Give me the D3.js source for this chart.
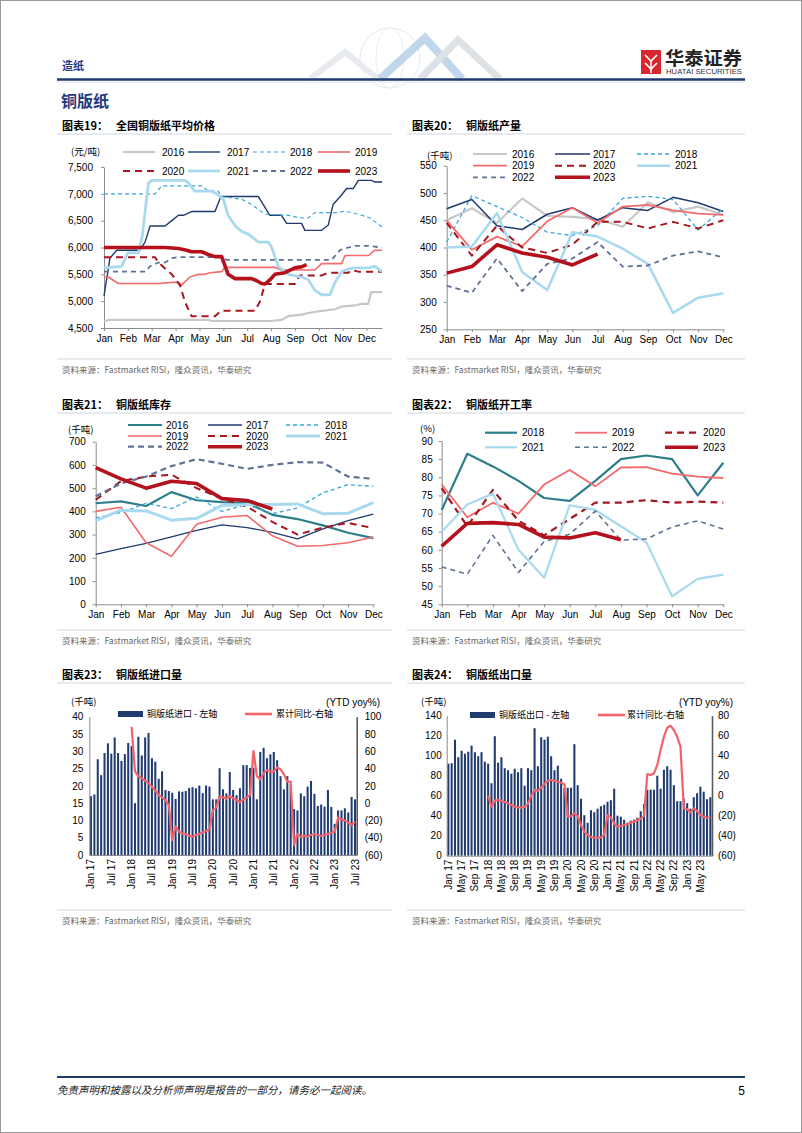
<!DOCTYPE html>
<html><head><meta charset="utf-8">
<script src="https://cdn.jsdelivr.net/npm/d3@7"></script>
<style>
body{margin:0;background:#fff;}
svg{display:block;font-family:"Liberation Sans",Arial,sans-serif;}
</style></head><body>
<svg id="page" width="802" height="1133"></svg>
<script>
// ---------------- DATA ----------------
const months = ["Jan","Feb","Mar","Apr","May","Jun","Jul","Aug","Sep","Oct","Nov","Dec"];

// Chart 19: [month position, price 元/吨]
const price2016 = [[0,4620],[0.2,4650],[4.4,4650],[4.5,4630],[7.0,4630],[7.44,4650],[7.72,4720],[8.28,4750],[8.56,4780],[8.98,4810],[9.68,4850],[9.96,4900],[10.5,4920],[10.8,4950],[11.07,4950],[11.2,5170],[11.65,5170]];
const price2017 = [[0,5100],[0.25,5800],[0.53,5950],[1.5,5950],[1.72,6100],[1.93,6400],[2.56,6400],[2.84,6500],[3.12,6600],[3.33,6600],[3.67,6670],[4.65,6670],[4.9,6950],[6.47,6950],[6.95,6600],[7.44,6600],[7.65,6450],[8.28,6450],[8.42,6320],[9.12,6320],[9.4,6420],[9.6,6800],[9.9,6950],[10.17,7100],[10.45,7100],[10.66,7250],[11.21,7250],[11.35,7220],[11.65,7220]];
const price2018 = [[0,7000],[2.14,7000],[2.42,7150],[4.09,7150],[4.37,7050],[4.79,7050],[4.9,6950],[5.77,6900],[6.19,6800],[6.75,6620],[7.72,6600],[8.28,6550],[8.56,6550],[8.84,6650],[9.82,6650],[10.1,6680],[10.8,6600],[11.15,6550],[11.65,6380]];
const price2019 = [[0,5450],[0.18,5450],[0.6,5330],[2.28,5330],[2.84,5350],[3.12,5350],[3.25,5300],[3.6,5450],[3.95,5500],[4.23,5500],[4.44,5530],[4.93,5550],[5.07,5630],[7.16,5630],[7.44,5580],[8.84,5580],[9.12,5700],[9.96,5700],[10.1,5850],[11.08,5850],[11.35,5950],[11.65,5950]];
const price2020 = [[0,5820],[2.14,5820],[2.28,5720],[2.84,5500],[3.18,5300],[3.4,4980],[3.67,4720],[4.65,4720],[4.9,4820],[6.33,4820],[6.54,5000],[6.75,5320],[8.0,5320],[8.2,5480],[9.12,5480],[9.4,5530],[10.24,5530],[10.38,5580],[10.66,5550],[11.65,5550]];
const price2021 = [[0,5620],[0.74,5650],[1.0,5900],[1.44,5900],[1.6,6200],[1.86,7200],[2.0,7250],[3.4,7250],[3.55,7200],[3.8,7050],[4.5,7050],[4.72,7000],[5.0,6900],[5.2,6600],[5.5,6400],[5.77,6300],[6.05,6250],[6.47,6100],[6.89,6100],[7.03,6000],[7.3,5650],[7.72,5500],[8.28,5450],[8.56,5400],[8.84,5200],[9.12,5120],[9.47,5120],[9.68,5350],[9.96,5550],[10.24,5600],[10.52,5620],[11.08,5620],[11.35,5650],[11.65,5550]];
const price2022 = [[0,5550],[1.72,5550],[1.93,5650],[2.28,5720],[2.56,5720],[2.84,5800],[3.12,5820],[4.93,5820],[5.14,5770],[9.54,5770],[9.89,5950],[10.24,6000],[10.52,6030],[11.08,6030],[11.65,6000]];
const price2023 = [[0,6000],[2.56,6000],[3.12,5980],[3.46,5950],[3.67,5920],[4.09,5920],[4.37,5870],[4.65,5830],[4.93,5830],[5.2,5500],[5.49,5420],[6.19,5420],[6.4,5380],[6.6,5330],[6.75,5320],[6.96,5400],[7.16,5500],[7.58,5530],[8.0,5620],[8.28,5640],[8.49,5680]];
const priceTicks = [4500,5000,5500,6000,6500,7000,7500];

// Chart 20: output (千吨), Jan-Dec
const out2016 = [450,472,445,490,458,456,452,438,483,465,475,460];
const out2017 = [471,488,440,433,461,473,450,473,468,492,482,466];
const out2018 = [410,495,475,455,428,422,440,490,494,488,432,472];
const out2019 = [450,396,420,402,448,473,445,475,478,468,462,460];
const out2020 = [445,385,440,400,390,405,447,447,435,447,435,450];
const out2021 = [400,402,463,355,322,428,420,398,370,280,308,316];
const out2022 = [330,317,380,320,370,380,410,365,367,385,393,382];
const out2023 = [353,365,405,390,382,368,388];
const outTicks = [250,300,350,400,450,500,550];

// Chart 21: inventory (千吨)
const inv2016 = [435,443,423,483,448,440,437,385,367,340,308,285];
const inv2017 = [215,240,262,290,318,342,330,310,282,325,360,388];
const inv2018 = [372,395,435,412,462,400,430,390,415,480,515,508];
const inv2019 = [400,418,265,207,345,375,382,295,250,253,265,290];
const inv2020 = [450,530,550,558,500,455,420,355,300,330,350,328];
const inv2021 = [360,405,402,362,370,425,430,430,432,390,392,438];
const inv2022 = [465,520,550,595,625,605,583,600,612,610,550,540];
const inv2023 = [588,540,500,530,520,455,447,410];
const invTicks = [0,100,200,300,400,500,600,700];

// Chart 22: operating rate (%)
const run2018 = [71,86.5,83,79,74.3,73.5,79,85,86,85,75,84];
const run2019 = [78,69,73,70,78,82,77.5,82.7,82.8,81,80.2,79.8];
const run2020 = [77,66.5,76.5,68,64,68.5,73,73,73.7,73,73.3,73];
const run2021 = [65,72.5,75.5,60,52.3,72.3,71,66.5,62,47.2,52,53.2];
const run2022 = [55.3,53.3,64,53.8,62.3,64.3,70.7,62.7,63,66.3,68,65.7];
const run2023 = [61,67.3,67.5,67,63.5,63.3,64.7,62.8];
const runTicks = [45,50,55,60,65,70,75,80,85,90];

// Chart 23: imports (千吨) Jan17-Jul23, YTD yoy %
const impVals = [17,17.5,27.7,23.1,29.5,32.3,29.3,34,29.5,27.2,29.2,32.4,
 31.5,15,34.2,28.8,34,35.3,28,27,22,24.2,18.8,18.5,
 18,16.2,18.4,18.3,18.5,19.4,19.6,19.3,20.1,17.9,20.1,19.8,
 16.1,16.1,25.1,19,17.8,24,18.8,17.3,19.3,26,26,25.2,
 25.2,16.1,29.8,31,28,29.1,29.8,27.4,22.8,19,22.8,20.5,
 13.3,12.9,17.8,17,19.8,21.4,17.7,14.2,14.6,14,18.8,13.9,
 9,12.9,12.9,13.5,12.3,16.8,16.1];
const impYoy = [null,null,null,null,null,null,null,null,null,null,null,null,
 88.4,36.4,31.4,28.7,26,23,19,14.4,9.4,6.7,3.6,-2.2,
 -42.7,-27,-33,-35,-35.7,-37.6,-38.8,-37,-35.7,-34,-32.6,-30.3,
 -8,-5,7.5,6.7,5.2,8.2,5.5,3.6,1,4.4,6.7,9.4,
 60.3,31.4,27.5,34.5,38.3,36.4,36.4,41.4,39,33.3,24.8,24.8,
 -48.4,-35.7,-38.8,-38,-38.8,-36.9,-35.7,-36.9,-38,-36.9,-35.7,-34.2,
 -33,-16.8,-18.7,-20.3,-22.6,-25.3,-21.4];
const impTickLabels = ["Jan 17","Jul 17","Jan 18","Jul 18","Jan 19","Jul 19","Jan 20","Jul 20","Jan 21","Jul 21","Jan 22","Jul 22","Jan 23","Jul 23"];
const impTicksL = [0,5,10,15,20,25,30,35,40];
const impTicksR = [-60,-40,-20,0,20,40,60,80,100];

// Chart 24: exports (千吨) Jan17-Aug23, YTD yoy %
const expVals = [92,92.5,116,98.5,105,102,104,110,103.5,99.5,103.5,94,
 92,72.5,119.5,93,98.5,87.5,85.5,82,87,83.5,87.5,70,
 87.5,85.5,127.5,89.5,118.5,116,119,99.5,85.5,90,77,68,
 68,68,111.5,70.5,57,40.5,33,45.5,43.5,47,49.5,51,
 54,55.5,67,40,39,36,33,35,36,38,44.5,51.5,
 66,66,66,80,67,86,89.5,86,70.5,54.5,54.5,57,
 52.5,47,58.5,62.5,69,64,56.5,58.5];
const expYoy = [null,null,null,null,null,null,null,null,null,null,null,null,
 0,-11,-5,-4.3,-5,-6.3,-7.7,-9.3,-11,-11.7,-12,-11,
 -8,0,5.5,5,8,12,15,15.7,15,14,13,11.5,
 -21,-20.3,-17.7,-20.3,-29.3,-36,-39.3,-41,-42,-42,-41.7,-39.3,
 -19.3,-21.7,-27.7,-31,-30.3,-29.3,-28.3,-27,-26,-24.3,-23,-20.3,
 21.7,20.7,22.3,30.7,45.7,59,68,70,65.7,59,49,-12.7,
 -13.3,-16.7,-12.7,-15.3,-19.3,-21,-22,-21];
const expTickLabels = ["Jan 17","May 17","Sep 17","Jan 18","May 18","Sep 18","Jan 19","May 19","Sep 19","Jan 20","May 20","Sep 20","Jan 21","May 21","Sep 21","Jan 22","May 22","Sep 22","Jan 23","May 23"];
const expTicksL = [0,20,40,60,80,100,120,140];
const expTicksR = [-60,-40,-20,0,20,40,60,80];

const yearNames = ["16","17","18","19","20","21","22","23"];

// ---------------- STYLE ----------------
const C = {g16:"#c8c8c8", navy:"#1f3a6e", cyan:"#3ba6d8", salmon:"#f26a6c", dred:"#a5161e",
  lblue:"#a9d9ee", gblue:"#5e7394", red:"#b3111b", teal:"#2d7e8a", bar:"#1f3b70", coral:"#f4636a"};
const CN = '"Noto Sans CJK SC","Noto Sans CJK JP",sans-serif';
const svg = d3.select("#page");

function txt(x,y,s,o={}){
  const t = svg.append("text").attr("x",x).attr("y",y).text(s)
    .style("font-size",(o.size||10)+"px").attr("fill",o.fill||"#000");
  if(o.cn) t.style("font-family",CN);
  if(o.bold) t.style("font-weight","bold");
  if(o.italic) t.style("font-style","italic");
  if(o.anchor) t.attr("text-anchor",o.anchor);
  if(o.dy) t.attr("dy",o.dy);
  if(o.len) t.attr("textLength",o.len).attr("lengthAdjust","spacingAndGlyphs");
  return t;
}
function hline(x1,x2,y,color,w){
  svg.append("line").attr("x1",x1).attr("x2",x2).attr("y1",y).attr("y2",y).attr("stroke",color).attr("stroke-width",w);
}

// ---------------- PAGE ----------------
svg.append("rect").attr("x",0.5).attr("y",0.5).attr("width",801).attr("height",1132).attr("fill","none").attr("stroke","#9a9a9a");
// decorative header graphic
const deco = svg.append("g").attr("opacity",0.55);
deco.append("circle").attr("cx",390).attr("cy",58).attr("r",30).attr("fill","none").attr("stroke","#cfd6de").attr("stroke-width",1);
deco.append("ellipse").attr("cx",390).attr("cy",58).attr("rx",14).attr("ry",30).attr("fill","none").attr("stroke","#d8dee5").attr("stroke-width",1);
[[[310,79],[345,52],[378,79]],[[380,79],[425,38],[462,79]],[[420,79],[458,40],[500,79]]].forEach((p,i)=>{
  deco.append("path").attr("d",d3.line()(p)).attr("fill","none")
   .attr("stroke",["#d5dbe2","#8fb6dc","#c3cbd4"][i]).attr("stroke-width",[6,8,7][i]);
});
txt(62,70,"造纸",{cn:true,bold:true,size:11,fill:"#1f3b82"});
// logo
svg.append("rect").attr("x",641).attr("y",50).attr("width",20).attr("height",24).attr("fill","#d7282f");
svg.append("path").attr("d","M645,55 L651,61 L657,55 M645,63 L651,69 L657,63 M651,61 L651,73").attr("stroke","#fff").attr("stroke-width",1.6).attr("fill","none");
txt(665,65,"华泰证券",{cn:true,bold:true,size:18,fill:"#222",len:77});
txt(666,74,"HUATAI SECURITIES",{size:6.5,fill:"#333",len:76});
hline(57,745,79.5,"#1f3b70",2.5);
hline(57,745,82,"#dfe5ee",1);
txt(61,107,"铜版纸",{cn:true,bold:true,size:16,fill:"#1f3b82"});

// chart titles, rules and sources
const panels = [
  {x:62, y:126, n:"19", t:"全国铜版纸平均价格", l:57, r:392, src:370},
  {x:412, y:126, n:"20", t:"铜版纸产量", l:407, r:745, src:370},
  {x:62, y:405, n:"21", t:"铜版纸库存", l:57, r:392, src:641},
  {x:412, y:405, n:"22", t:"铜版纸开工率", l:407, r:745, src:641},
  {x:62, y:675, n:"23", t:"铜版纸进口量", l:57, r:392, src:921},
  {x:412, y:675, n:"24", t:"铜版纸出口量", l:407, r:745, src:921}
];
panels.forEach(p=>{
  txt(p.x,p.y+4,"图表"+p.n+"：",{cn:true,bold:true,size:11});
  txt(p.x+54,p.y+4,p.t,{cn:true,bold:true,size:11});
  hline(p.l,p.r,p.y+8,"#c2cddb",0.8);
  hline(p.l,p.r,p.src-11,"#c2cddb",0.8);
  txt(p.x,p.src+3,"资料来源：Fastmarket RISI，隆众资讯，华泰研究",{cn:true,size:8.5,fill:"#666"});
});
// footer
hline(57,745,1077,"#1f3b70",2);
txt(57,1094,"免责声明和披露以及分析师声明是报告的一部分，请务必一起阅读。",{cn:true,italic:true,size:10.5,fill:"#222"});
txt(745,1095,"5",{size:12,anchor:"end"});

// ---------------- HELPERS ----------------
function styleAxis(g, fs){
  g.selectAll(".domain").attr("stroke","#8c8c8c");
  g.selectAll(".tick line").attr("stroke","#8c8c8c");
  g.selectAll("text").attr("fill","#000").style("font-size",(fs||10)+"px").style("font-family",'"Liberation Sans",Arial,sans-serif');
}
function legendItem(x1,x2,y,label,st,lx){
  const l = svg.append("line").attr("x1",x1).attr("x2",x2).attr("y1",y).attr("y2",y)
    .attr("stroke",st.c).attr("stroke-width",st.w);
  if(st.d) l.attr("stroke-dasharray",st.d);
  txt(lx,y,label,{size:10,dy:"0.36em"});
}
function drawSeries(pts, st){
  const p = svg.append("path").attr("d",d3.line()(pts)).attr("fill","none")
    .attr("stroke",st.c).attr("stroke-width",st.w).attr("stroke-linejoin","round");
  if(st.d) p.attr("stroke-dasharray",st.d);
}
function monthlyChart(o){
  const x = d3.scalePoint().domain(months).range(o.xr);
  const y = d3.scaleLinear().domain(o.yd).range(o.yr);
  const gy = svg.append("g").attr("transform",`translate(${o.xr[0]},0)`)
    .call(d3.axisLeft(y).tickValues(o.ticks).tickSize(3).tickPadding(o.padY).tickSizeOuter(0));
  styleAxis(gy);
  const gx = svg.append("g").attr("transform",`translate(0,${o.yr[0]})`)
    .call(d3.axisBottom(x).tickSize(3).tickPadding(4).tickSizeOuter(0));
  styleAxis(gx);
  o.series.forEach(s=>{
    drawSeries(s.v.map((v,i)=>[x(months[i]),y(v)]), s.st);
  });
  o.series.forEach((s,i)=>{
    const col = i % o.cols.length, row = Math.floor(i / o.cols.length);
    const c = o.cols[col];
    legendItem(c[0],c[1],o.rows[row],s.name,s.st,c[2]);
  });
  txt(o.unit[0],o.unit[1],o.unitText,{cn:true,size:9.5,dy:"0.36em"});
}

// ---------------- CHART 19 ----------------
(function(){
  const x = d3.scaleLinear().domain([0,11.65]).range([104,382]);
  const y = d3.scaleLinear().domain([4500,7500]).range([328,167]);
  const gy = svg.append("g").attr("transform","translate(104,0)")
    .call(d3.axisLeft(y).tickValues(priceTicks).tickFormat(d3.format(",")).tickSize(3).tickPadding(8).tickSizeOuter(0));
  styleAxis(gy);
  const gx = svg.append("g").attr("transform","translate(0,328)")
    .call(d3.axisBottom(x).tickValues(d3.range(12)).tickFormat(i=>months[i]).tickSize(3).tickPadding(4).tickSizeOuter(0));
  styleAxis(gx);
  const series = [
    {name:"2016", v:price2016, st:{c:C.g16,w:2.2}},
    {name:"2017", v:price2017, st:{c:C.navy,w:1.4}},
    {name:"2018", v:price2018, st:{c:C.cyan,w:1.2,d:"4,3"}},
    {name:"2019", v:price2019, st:{c:C.salmon,w:1.6}},
    {name:"2020", v:price2020, st:{c:C.dred,w:2,d:"7,5"}},
    {name:"2021", v:price2021, st:{c:C.lblue,w:2.8}},
    {name:"2022", v:price2022, st:{c:C.gblue,w:1.8,d:"5,4"}},
    {name:"2023", v:price2023, st:{c:C.red,w:3.6}}
  ];
  series.forEach(s=>drawSeries(s.v.map(d=>[x(d[0]),y(d[1])]), s.st));
  const cols = [[123,155,162],[188,220,227],[253,285,290],[318,350,355]];
  const rows = [152,171];
  series.forEach((s,i)=>{ const c = cols[i%4]; legendItem(c[0],c[1],rows[Math.floor(i/4)],s.name,s.st,c[2]); });
  txt(71,152,"(元/吨)",{cn:true,size:9.5,dy:"0.36em"});
})();

// ---------------- CHART 20 ----------------
monthlyChart({
  xr:[446.7,723.3], yd:[250,550], yr:[329.3,165.7], ticks:outTicks, padY:7,
  series:[
    {name:"2016", v:out2016, st:{c:C.g16,w:2.2}},
    {name:"2017", v:out2017, st:{c:C.navy,w:1.5}},
    {name:"2018", v:out2018, st:{c:C.cyan,w:1.3,d:"4,3"}},
    {name:"2019", v:out2019, st:{c:C.salmon,w:1.8}},
    {name:"2020", v:out2020, st:{c:C.dred,w:2,d:"7,5"}},
    {name:"2021", v:out2021, st:{c:C.lblue,w:2.5}},
    {name:"2022", v:out2022, st:{c:C.gblue,w:1.8,d:"5,4"}},
    {name:"2023", v:out2023, st:{c:C.red,w:3.6}}
  ],
  cols:[[473,507,512],[555,590,593],[637,670,675]], rows:[154,165.7,177.3],
  unit:[427,156], unitText:"(千吨)"
});

// ---------------- CHART 21 ----------------
monthlyChart({
  xr:[95.7,373.3], yd:[0,700], yr:[604.3,441.7], ticks:invTicks, padY:7,
  series:[
    {name:"2016", v:inv2016, st:{c:C.teal,w:2.2}},
    {name:"2017", v:inv2017, st:{c:C.navy,w:1.3}},
    {name:"2018", v:inv2018, st:{c:C.cyan,w:1.3,d:"4,3"}},
    {name:"2019", v:inv2019, st:{c:C.salmon,w:1.6}},
    {name:"2020", v:inv2020, st:{c:C.dred,w:2,d:"7,5"}},
    {name:"2021", v:inv2021, st:{c:C.lblue,w:3}},
    {name:"2022", v:inv2022, st:{c:C.gblue,w:2.2,d:"6,4"}},
    {name:"2023", v:inv2023, st:{c:C.red,w:3.6}}
  ],
  cols:[[128,162,166],[208,242,246],[286,320,325]], rows:[425,436,446.7],
  unit:[68,429.7], unitText:"(千吨)"
});

// ---------------- CHART 22 ----------------
monthlyChart({
  xr:[441.7,723.3], yd:[45,90], yr:[604.3,441], ticks:runTicks, padY:6,
  series:[
    {name:"2018", v:run2018, st:{c:C.teal,w:2.2}},
    {name:"2019", v:run2019, st:{c:C.salmon,w:1.8}},
    {name:"2020", v:run2020, st:{c:C.dred,w:2.2,d:"7,5"}},
    {name:"2021", v:run2021, st:{c:C.lblue,w:2.2}},
    {name:"2022", v:run2022, st:{c:C.gblue,w:1.6,d:"5,4"}},
    {name:"2023", v:run2023, st:{c:C.red,w:3.6}}
  ],
  cols:[[485,517,522],[575,607,612],[665,698,703]], rows:[432.7,447.3],
  unit:[420,429], unitText:"(%)"
});

// ---------------- BAR + LINE CHARTS ----------------
function buildCats(n){
  const out=[]; for(let i=0;i<n;i++){ out.push(months[i%12]+" "+(17+Math.floor(i/12))); } return out;
}
function barChart(o){
  const cats = buildCats(o.vals.length);
  const x = d3.scaleBand().domain(cats).range(o.xr).paddingInner(o.pad).paddingOuter(o.pad/2);
  const yL = d3.scaleLinear().domain(o.ydL).range(o.yr);
  const yR = d3.scaleLinear().domain(o.ydR).range(o.yr);
  svg.append("g").selectAll("rect").data(o.vals).join("rect")
    .attr("x",(d,i)=>x(cats[i])).attr("width",x.bandwidth())
    .attr("y",d=>yL(d)).attr("height",d=>yL(0)-yL(d)).attr("fill",C.bar);
  const gl = svg.append("g").attr("transform",`translate(${o.xr[0]},0)`)
    .call(d3.axisLeft(yL).tickValues(o.ticksL).tickSize(0).tickPadding(o.padL));
  styleAxis(gl);
  const gr = svg.append("g").attr("transform",`translate(${o.xr[1]},0)`)
    .call(d3.axisRight(yR).tickValues(o.ticksR).tickSize(0).tickPadding(o.padR)
      .tickFormat(v=> v<0 ? "("+(-v)+")" : String(v)));
  styleAxis(gr);
  gr.selectAll(".domain").attr("stroke","#5a5a5a").attr("stroke-width",1.6);
  const gx = svg.append("g").attr("transform",`translate(0,${o.yr[0]})`)
    .call(d3.axisBottom(x).tickValues(o.tickLabels).tickSize(0).tickSizeOuter(0));
  styleAxis(gx, 10);
  gx.selectAll("text").attr("transform","rotate(-90)").attr("x",-4).attr("y",0).attr("dy","0.35em").style("text-anchor","end");
  const line = d3.line().defined(d=>d!=null).x((d,i)=>x(cats[i])+x.bandwidth()/2).y(d=>yR(d));
  svg.append("path").datum(o.yoy).attr("d",line).attr("fill","none").attr("stroke",C.coral)
    .attr("stroke-width",2.2).attr("stroke-linejoin","round");
  // legend
  svg.append("rect").attr("x",o.leg[0]).attr("y",o.leg[4]-3).attr("width",25).attr("height",6).attr("fill",C.bar);
  txt(o.leg[1],o.leg[4],o.barName,{cn:true,size:9,dy:"0.36em"});
  svg.append("line").attr("x1",o.leg[2]).attr("x2",o.leg[2]+27).attr("y1",o.leg[4]).attr("y2",o.leg[4]).attr("stroke",C.coral).attr("stroke-width",2.6);
  txt(o.leg[3],o.leg[4],"累计同比-右轴",{cn:true,size:9,dy:"0.36em"});
  txt(o.unitL[0],o.unitL[1],"(千吨)",{cn:true,size:9.5,dy:"0.36em"});
  txt(o.unitR[0],o.unitR[1],"(YTD yoy%)",{size:10,dy:"0.36em",anchor:"end"});
}

barChart({
  vals:impVals, yoy:impYoy, xr:[89.3,356.7], pad:0.4, yr:[855,716.7],
  ydL:[0,40], ydR:[-60,100], ticksL:impTicksL, ticksR:impTicksR, padL:6, padR:8,
  tickLabels:impTickLabels, leg:[118,147,245,276,714], barName:"铜版纸进口 - 左轴",
  unitL:[71,702], unitR:[380,702]
});
barChart({
  vals:expVals, yoy:expYoy, xr:[446.7,712], pad:0.38, yr:[855.7,715.7],
  ydL:[0,140], ydR:[-60,80], ticksL:expTicksL, ticksR:expTicksR, padL:5, padR:6,
  tickLabels:expTickLabels, leg:[470,499,598,627,715], barName:"铜版纸出口 - 左轴",
  unitL:[421,702], unitR:[733,702]
});
</script>
</body></html>
